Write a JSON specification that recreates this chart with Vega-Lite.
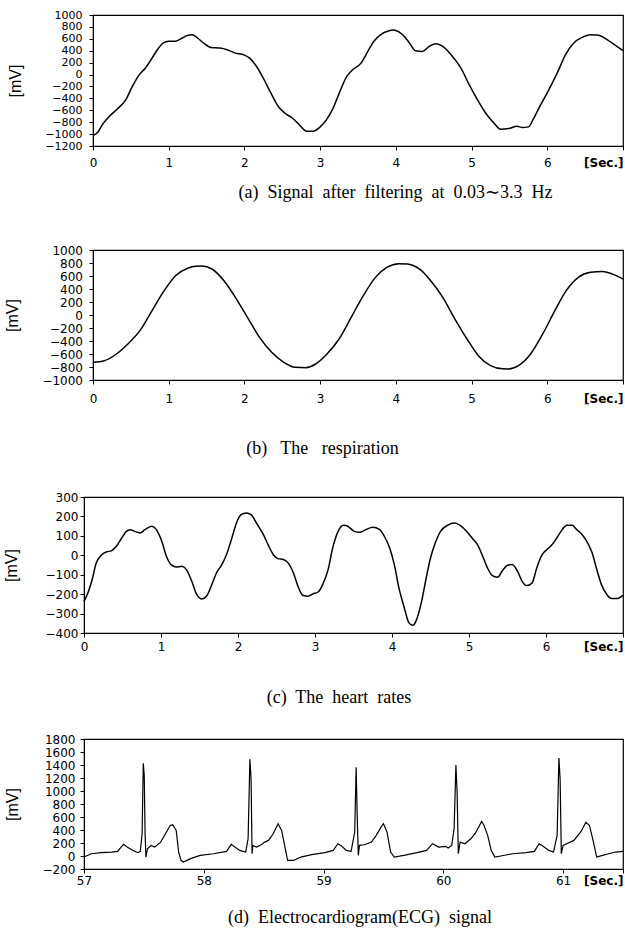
{
  "$schema": "https://vega.github.io/schema/vega-lite/v6.json",
  "background": "white",
  "padding": {"left": 0, "top": 8, "right": 0, "bottom": 0},
  "config": {
    "view": {"stroke": "black", "strokeWidth": 1.2},
    "axis": {"domainColor": "black", "tickColor": "black", "labelColor": "black", "titleColor": "black", "grid": false, "labelFont": "DejaVu Sans", "labelFontSize": 12, "tickSize": 4, "titleFontWeight": "normal"},
    "axisX": {"titleFont": "Liberation Serif", "titleFontSize": 18, "labelFlush": false},
    "axisY": {"titleFont": "Liberation Sans", "titleFontSize": 16, "labelOverlap": false, "format": "d"}
  },
  "datasets": {
    "a": [
      {"t":0,"v":-1020},{"t":0.06,"v":-975},{"t":0.12,"v":-850},{"t":0.21,"v":-710},{"t":0.32,"v":-580},{"t":0.43,"v":-430},{"t":0.52,"v":-200},{"t":0.61,"v":-5},{"t":0.69,"v":107},{"t":0.78,"v":276},{"t":0.85,"v":417},{"t":0.93,"v":530},{"t":1.0,"v":558},{"t":1.09,"v":560},{"t":1.18,"v":614},{"t":1.24,"v":654},{"t":1.31,"v":670},{"t":1.37,"v":625},{"t":1.46,"v":530},{"t":1.56,"v":456},{"t":1.68,"v":445},{"t":1.77,"v":417},{"t":1.88,"v":360},{"t":1.99,"v":332},{"t":2.07,"v":276},{"t":2.16,"v":135},{"t":2.25,"v":-62},{"t":2.34,"v":-287},{"t":2.45,"v":-541},{"t":2.54,"v":-654},{"t":2.64,"v":-738},{"t":2.73,"v":-851},{"t":2.82,"v":-952},{"t":2.91,"v":-952},{"t":3.0,"v":-879},{"t":3.08,"v":-766},{"t":3.17,"v":-569},{"t":3.26,"v":-287},{"t":3.35,"v":-34},{"t":3.43,"v":80},{"t":3.54,"v":192},{"t":3.63,"v":389},{"t":3.71,"v":558},{"t":3.8,"v":670},{"t":3.89,"v":727},{"t":3.97,"v":749},{"t":4.04,"v":715},{"t":4.11,"v":642},{"t":4.18,"v":530},{"t":4.26,"v":400},{"t":4.35,"v":389},{"t":4.44,"v":473},{"t":4.53,"v":518},{"t":4.62,"v":473},{"t":4.73,"v":332},{"t":4.86,"v":107},{"t":4.97,"v":-175},{"t":5.08,"v":-428},{"t":5.19,"v":-654},{"t":5.3,"v":-822},{"t":5.38,"v":-918},{"t":5.49,"v":-907},{"t":5.6,"v":-868},{"t":5.67,"v":-890},{"t":5.75,"v":-879},{"t":5.82,"v":-738},{"t":5.91,"v":-513},{"t":6.02,"v":-259},{"t":6.13,"v":23},{"t":6.24,"v":332},{"t":6.35,"v":530},{"t":6.46,"v":625},{"t":6.57,"v":670},{"t":6.68,"v":659},{"t":6.79,"v":586},{"t":6.9,"v":490},{"t":7.0,"v":400}
    ],
    "b": [
      {"t":0,"v":-728},{"t":0.15,"v":-703},{"t":0.31,"v":-600},{"t":0.46,"v":-446},{"t":0.62,"v":-241},{"t":0.78,"v":67},{"t":0.94,"v":374},{"t":1.09,"v":605},{"t":1.25,"v":720},{"t":1.36,"v":750},{"t":1.44,"v":752},{"t":1.57,"v":708},{"t":1.73,"v":528},{"t":1.88,"v":272},{"t":2.04,"v":-36},{"t":2.2,"v":-344},{"t":2.36,"v":-574},{"t":2.52,"v":-728},{"t":2.67,"v":-805},{"t":2.81,"v":-810},{"t":2.94,"v":-754},{"t":3.09,"v":-600},{"t":3.25,"v":-369},{"t":3.41,"v":-36},{"t":3.57,"v":297},{"t":3.73,"v":579},{"t":3.88,"v":733},{"t":4.04,"v":790},{"t":4.15,"v":785},{"t":4.31,"v":708},{"t":4.46,"v":528},{"t":4.62,"v":272},{"t":4.78,"v":-62},{"t":4.94,"v":-369},{"t":5.09,"v":-626},{"t":5.25,"v":-779},{"t":5.41,"v":-828},{"t":5.49,"v":-830},{"t":5.62,"v":-779},{"t":5.78,"v":-600},{"t":5.94,"v":-292},{"t":6.1,"v":67},{"t":6.25,"v":374},{"t":6.41,"v":579},{"t":6.57,"v":656},{"t":6.73,"v":670},{"t":6.88,"v":621},{"t":7.0,"v":554}
    ],
    "c": [
      {"t":0,"v":-237},{"t":0.043,"v":-202},{"t":0.1,"v":-134},{"t":0.16,"v":-39},{"t":0.23,"v":3},{"t":0.29,"v":17},{"t":0.36,"v":24},{"t":0.42,"v":46},{"t":0.49,"v":89},{"t":0.55,"v":123},{"t":0.6,"v":132},{"t":0.66,"v":123},{"t":0.73,"v":115},{"t":0.79,"v":132},{"t":0.88,"v":149},{"t":0.94,"v":132},{"t":1.01,"v":72},{"t":1.07,"v":-5},{"t":1.14,"v":-51},{"t":1.2,"v":-60},{"t":1.27,"v":-57},{"t":1.33,"v":-74},{"t":1.4,"v":-134},{"t":1.46,"v":-199},{"t":1.53,"v":-225},{"t":1.59,"v":-211},{"t":1.66,"v":-151},{"t":1.72,"v":-91},{"t":1.79,"v":-48},{"t":1.85,"v":3},{"t":1.92,"v":89},{"t":1.98,"v":166},{"t":2.04,"v":209},{"t":2.11,"v":218},{"t":2.17,"v":209},{"t":2.24,"v":166},{"t":2.33,"v":106},{"t":2.39,"v":55},{"t":2.46,"v":3},{"t":2.52,"v":-17},{"t":2.59,"v":-22},{"t":2.65,"v":-39},{"t":2.72,"v":-91},{"t":2.78,"v":-160},{"t":2.84,"v":-206},{"t":2.91,"v":-211},{"t":2.97,"v":-199},{"t":3.04,"v":-189},{"t":3.1,"v":-151},{"t":3.17,"v":-74},{"t":3.23,"v":38},{"t":3.3,"v":123},{"t":3.37,"v":154},{"t":3.43,"v":148},{"t":3.51,"v":123},{"t":3.58,"v":118},{"t":3.66,"v":132},{"t":3.75,"v":144},{"t":3.84,"v":132},{"t":3.9,"v":98},{"t":3.97,"v":38},{"t":4.03,"v":-48},{"t":4.09,"v":-168},{"t":4.16,"v":-271},{"t":4.22,"v":-348},{"t":4.27,"v":-360},{"t":4.31,"v":-340},{"t":4.38,"v":-245},{"t":4.44,"v":-125},{"t":4.5,"v":-14},{"t":4.57,"v":72},{"t":4.63,"v":123},{"t":4.72,"v":154},{"t":4.81,"v":166},{"t":4.87,"v":158},{"t":4.97,"v":123},{"t":5.04,"v":89},{"t":5.11,"v":55},{"t":5.17,"v":3},{"t":5.24,"v":-65},{"t":5.3,"v":-103},{"t":5.37,"v":-113},{"t":5.43,"v":-82},{"t":5.5,"v":-51},{"t":5.56,"v":-48},{"t":5.63,"v":-82},{"t":5.69,"v":-134},{"t":5.75,"v":-156},{"t":5.82,"v":-142},{"t":5.88,"v":-65},{"t":5.95,"v":3},{"t":6.01,"v":29},{"t":6.08,"v":55},{"t":6.14,"v":89},{"t":6.21,"v":132},{"t":6.27,"v":154},{"t":6.34,"v":154},{"t":6.4,"v":132},{"t":6.47,"v":106},{"t":6.53,"v":72},{"t":6.6,"v":12},{"t":6.66,"v":-74},{"t":6.72,"v":-151},{"t":6.79,"v":-202},{"t":6.85,"v":-223},{"t":6.92,"v":-223},{"t":7.0,"v":-206}
    ],
    "d": [
      {"t":57.0,"v":-16},{"t":57.06,"v":35},{"t":57.14,"v":51},{"t":57.23,"v":61},{"t":57.28,"v":71},{"t":57.31,"v":138},{"t":57.33,"v":179},{"t":57.36,"v":138},{"t":57.41,"v":86},{"t":57.45,"v":51},{"t":57.47,"v":71},{"t":57.485,"v":342},{"t":57.495,"v":1426},{"t":57.503,"v":1237},{"t":57.51,"v":342},{"t":57.517,"v":-16},{"t":57.53,"v":112},{"t":57.56,"v":163},{"t":57.59,"v":138},{"t":57.64,"v":214},{"t":57.68,"v":342},{"t":57.72,"v":470},{"t":57.74,"v":480},{"t":57.77,"v":393},{"t":57.79,"v":61},{"t":57.81,"v":-67},{"t":57.83,"v":-93},{"t":57.89,"v":-41},{"t":57.97,"v":10},{"t":58.08,"v":35},{"t":58.19,"v":71},{"t":58.23,"v":179},{"t":58.26,"v":138},{"t":58.3,"v":86},{"t":58.35,"v":61},{"t":58.37,"v":265},{"t":58.385,"v":1490},{"t":58.395,"v":1186},{"t":58.403,"v":35},{"t":58.41,"v":163},{"t":58.44,"v":138},{"t":58.48,"v":173},{"t":58.51,"v":214},{"t":58.54,"v":240},{"t":58.58,"v":342},{"t":58.62,"v":496},{"t":58.65,"v":393},{"t":58.68,"v":112},{"t":58.7,"v":-67},{"t":58.75,"v":-67},{"t":58.81,"v":-16},{"t":58.9,"v":20},{"t":59.01,"v":51},{"t":59.08,"v":86},{"t":59.12,"v":189},{"t":59.15,"v":153},{"t":59.19,"v":86},{"t":59.23,"v":71},{"t":59.26,"v":368},{"t":59.272,"v":1365},{"t":59.28,"v":675},{"t":59.29,"v":10},{"t":59.3,"v":163},{"t":59.34,"v":173},{"t":59.4,"v":214},{"t":59.44,"v":317},{"t":59.48,"v":444},{"t":59.5,"v":496},{"t":59.53,"v":368},{"t":59.56,"v":61},{"t":59.59,"v":-16},{"t":59.67,"v":10},{"t":59.78,"v":51},{"t":59.86,"v":86},{"t":59.91,"v":189},{"t":59.96,"v":138},{"t":60.02,"v":148},{"t":60.04,"v":122},{"t":60.07,"v":163},{"t":60.09,"v":419},{"t":60.105,"v":1400},{"t":60.115,"v":982},{"t":60.125,"v":35},{"t":60.14,"v":214},{"t":60.18,"v":189},{"t":60.23,"v":265},{"t":60.27,"v":358},{"t":60.32,"v":530},{"t":60.34,"v":470},{"t":60.37,"v":317},{"t":60.4,"v":86},{"t":60.43,"v":-16},{"t":60.48,"v":0},{"t":60.58,"v":35},{"t":60.69,"v":51},{"t":60.76,"v":71},{"t":60.8,"v":189},{"t":60.83,"v":153},{"t":60.88,"v":86},{"t":60.92,"v":61},{"t":60.95,"v":317},{"t":60.965,"v":1509},{"t":60.975,"v":1186},{"t":60.985,"v":35},{"t":61.0,"v":163},{"t":61.03,"v":189},{"t":61.09,"v":240},{"t":61.15,"v":378},{"t":61.19,"v":521},{"t":61.22,"v":470},{"t":61.25,"v":240},{"t":61.28,"v":-16},{"t":61.33,"v":10},{"t":61.38,"v":35},{"t":61.44,"v":61},{"t":61.5,"v":71}
    ]
  },
  "spacing": 31,
  "vconcat": [
    {
      "spacing": 0,
      "hconcat": [
        {"width": 4, "height": 10, "view": {"stroke": null}, "data": {"values": []}, "mark": "point"},
        {
          "spacing": 41,
          "vconcat": [
            {
              "width": 530, "height": 131,
              "data": {"name": "a"},
              "mark": {"type": "line", "interpolate": "monotone", "color": "black", "strokeWidth": 1.5},
              "encoding": {
                "x": {"field": "t", "type": "quantitative", "scale": {"domain": [0, 7], "nice": false},
                  "axis": {"values": [0,1,2,3,4,5,6,7], "labelExpr": "datum.value == 7 ? '[Sec.]' : datum.label",
                    "labelAlign": {"condition": {"test": "datum.value == 7", "value": "right"}, "value": "center"},
                    "labelFontWeight": {"condition": {"test": "datum.value == 7", "value": "bold"}, "value": "normal"},
                    "labelPadding": 7, "title": "(a)\u00a0 Signal\u00a0 after\u00a0 filtering\u00a0 at\u00a0 0.03∼3.3\u00a0 Hz", "titleX": 302, "titlePadding": 15}},
                "y": {"field": "v", "type": "quantitative", "scale": {"domain": [-1200, 1000], "nice": false},
                  "axis": {"values": [-1200,-1000,-800,-600,-400,-200,0,200,400,600,800,1000], "title": "[mV]", "labelFontSize": 11, "labelPadding": 7, "titlePadding": 21}}
              }
            },
            {
              "width": 530, "height": 130,
              "data": {"name": "b"},
              "mark": {"type": "line", "interpolate": "monotone", "color": "black", "strokeWidth": 1.5},
              "encoding": {
                "x": {"field": "t", "type": "quantitative", "scale": {"domain": [0, 7], "nice": false},
                  "axis": {"values": [0,1,2,3,4,5,6,7], "labelExpr": "datum.value == 7 ? '[Sec.]' : datum.label",
                    "labelAlign": {"condition": {"test": "datum.value == 7", "value": "right"}, "value": "center"},
                    "labelFontWeight": {"condition": {"test": "datum.value == 7", "value": "bold"}, "value": "normal"},
                    "labelPadding": 9.5, "title": "(b)\u00a0\u00a0 The\u00a0\u00a0 respiration", "titleX": 229, "titlePadding": 35}},
                "y": {"field": "v", "type": "quantitative", "scale": {"domain": [-1000, 1000], "nice": false},
                  "axis": {"values": [-1000,-800,-600,-400,-200,0,200,400,600,800,1000], "title": "[mV]", "labelPadding": 6.5, "titlePadding": 21}}
              }
            }
          ]
        }
      ]
    },
    {
      "spacing": 0,
      "hconcat": [
        {"width": 2, "height": 10, "view": {"stroke": null}, "data": {"values": []}, "mark": "point"},
        {
          "spacing": 24,
          "vconcat": [
            {
              "width": 539, "height": 136,
              "data": {"name": "c"},
              "mark": {"type": "line", "interpolate": "monotone", "color": "black", "strokeWidth": 1.5},
              "encoding": {
                "x": {"field": "t", "type": "quantitative", "scale": {"domain": [0, 7], "nice": false},
                  "axis": {"values": [0,1,2,3,4,5,6,7], "labelExpr": "datum.value == 7 ? '[Sec.]' : datum.label",
                    "labelAlign": {"condition": {"test": "datum.value == 7", "value": "right"}, "value": "center"},
                    "labelFontWeight": {"condition": {"test": "datum.value == 7", "value": "bold"}, "value": "normal"},
                    "labelPadding": 4.5, "title": "(c)\u00a0 The\u00a0 heart\u00a0 rates", "titleX": 254.5, "titlePadding": 36}},
                "y": {"field": "v", "type": "quantitative", "scale": {"domain": [-400, 300], "nice": false},
                  "axis": {"values": [-400,-300,-200,-100,0,100,200,300], "title": "[mV]", "labelPadding": 2, "titlePadding": 26}}
              }
            },
            {
              "width": 539, "height": 130,
              "data": {"name": "d"},
              "mark": {"type": "line", "color": "black", "strokeWidth": 1.2},
              "encoding": {
                "x": {"field": "t", "type": "quantitative", "scale": {"domain": [57, 61.5], "nice": false, "zero": false},
                  "axis": {"values": [57,58,59,60,61,61.5], "labelExpr": "datum.value == 61.5 ? '[Sec.]' : datum.label",
                    "labelAlign": {"condition": {"test": "datum.value == 61.5", "value": "right"}, "value": "center"},
                    "labelFontWeight": {"condition": {"test": "datum.value == 61.5", "value": "bold"}, "value": "normal"},
                    "labelPadding": 2.5, "title": "(d)\u00a0 Electrocardiogram(ECG)\u00a0 signal", "titleX": 275.5, "titlePadding": 22}},
                "y": {"field": "v", "type": "quantitative", "scale": {"domain": [-200, 1800], "nice": false},
                  "axis": {"values": [-200,0,200,400,600,800,1000,1200,1400,1600,1800], "title": "[mV]", "labelPadding": 5, "titlePadding": 22}}
              }
            }
          ]
        }
      ]
    }
  ]
}
